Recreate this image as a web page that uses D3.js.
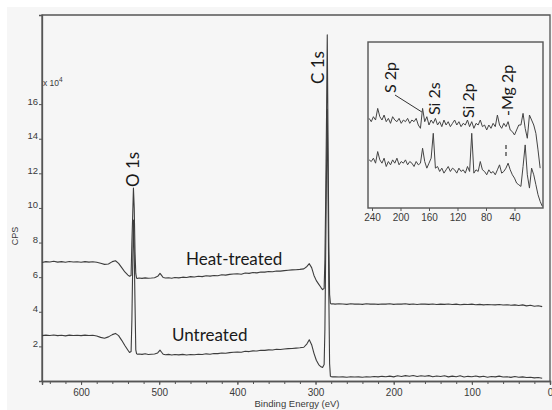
<!DOCTYPE html>
<html>
<head>
<meta charset="utf-8">
<script src="https://cdn.jsdelivr.net/npm/d3@7/dist/d3.min.js"></script>
<style>
  html, body { margin: 0; padding: 0; background: #ffffff; }
  svg { display: block; }
  .tick text { font-family: "Liberation Sans", Arial, sans-serif; fill: #3a3a3a; }
  .ann { font-family: Lato, "Open Sans", sans-serif; fill: #1a1a1a; }
</style>
</head>
<body>
<svg id="chart" width="552" height="410"></svg>
<script>
// XPS survey spectra: binding energy (eV) and intensity (CPS, x 10^4)
const energy = [650,645,640,635,630,625,620,615,610,605,600,595,590,585,580,575,570,565,560,556,552,548,544,540,538,536,535,534,533,532,531,530,529,528,526,522,518,514,510,506,502,499,497,495,492,488,484,480,475,470,465,460,455,450,445,440,435,430,425,420,415,410,405,400,395,390,385,380,375,370,365,360,355,350,345,340,335,330,325,320,315,311,308,305,302,299,296,293,291,289,288,287,286,285,284,283,282,281,280,278,275,270,265,260,255,250,245,240,235,230,225,220,215,210,205,200,195,190,185,180,175,170,165,160,155,150,145,140,135,130,125,120,115,110,105,100,95,90,85,80,75,70,65,60,55,50,45,40,35,30,25,20,15,10,5,0];

const heatTreated = [6.85,6.90,6.88,6.92,6.87,6.90,6.86,6.91,6.88,6.89,6.86,6.90,6.87,6.89,6.86,6.80,6.74,6.76,6.90,6.95,6.80,6.55,6.30,6.12,6.05,6.10,8.0,9.5,11.15,10.0,7.5,6.2,5.95,5.92,5.95,5.93,5.96,5.94,5.95,5.97,6.05,6.22,6.10,5.98,5.95,5.97,5.94,5.98,5.96,6.00,5.98,6.03,6.01,6.05,6.03,6.08,6.06,6.10,6.08,6.14,6.12,6.16,6.18,6.20,6.17,6.24,6.22,6.27,6.25,6.30,6.29,6.33,6.31,6.36,6.35,6.38,6.40,6.42,6.43,6.45,6.48,6.62,6.78,6.55,6.10,5.80,5.60,5.40,5.28,5.35,7.0,10.5,15.0,20.0,14.0,8.0,5.0,4.50,4.45,4.46,4.44,4.46,4.45,4.43,4.46,4.44,4.45,4.43,4.46,4.44,4.45,4.43,4.45,4.44,4.46,4.43,4.45,4.44,4.46,4.43,4.45,4.42,4.45,4.44,4.43,4.45,4.42,4.44,4.43,4.45,4.42,4.44,4.41,4.43,4.42,4.44,4.41,4.43,4.40,4.42,4.41,4.40,4.42,4.39,4.41,4.38,4.40,4.36,4.40,4.34,4.38,4.32,4.35,4.30];

const untreated = [2.62,2.65,2.63,2.66,2.62,2.64,2.61,2.65,2.63,2.64,2.62,2.65,2.63,2.64,2.60,2.52,2.47,2.55,2.68,2.75,2.62,2.35,2.05,1.78,1.65,1.70,3.5,6.5,9.3,7.5,4.5,1.8,1.58,1.55,1.56,1.54,1.57,1.53,1.55,1.56,1.62,1.78,1.66,1.55,1.52,1.54,1.50,1.53,1.51,1.54,1.50,1.53,1.52,1.55,1.53,1.57,1.55,1.59,1.58,1.62,1.60,1.64,1.66,1.68,1.66,1.72,1.70,1.74,1.73,1.78,1.77,1.80,1.79,1.83,1.82,1.85,1.87,1.88,1.90,1.92,1.95,2.15,2.38,2.10,1.60,1.20,0.95,0.82,0.78,0.95,3.0,7.5,12.0,15.7,11.0,5.0,1.0,0.28,0.25,0.24,0.25,0.23,0.24,0.22,0.25,0.23,0.24,0.22,0.25,0.23,0.26,0.24,0.27,0.25,0.28,0.24,0.30,0.26,0.31,0.27,0.32,0.26,0.30,0.27,0.31,0.25,0.29,0.26,0.30,0.24,0.28,0.25,0.30,0.23,0.27,0.25,0.29,0.24,0.27,0.22,0.26,0.24,0.28,0.23,0.25,0.21,0.26,0.22,0.24,0.20,0.22,0.18,0.20,0.16];

const xTicksMajor = [600,500,400,300,200,100,0];
const xTicksMinor = [640,620,600,580,560,540,520,500,480,460,440,420,400,380,360,340,320,300,280,260,240,220,200,180,160,140,120,100,80,60,40,20,0];
const yTicks = [2,4,6,8,10,12,14,16];

// Low binding-energy region (inset), arbitrary offset units
const insetEnergy = [244,241,238,235,232,229,226,223,220,217,214,211,208,205,202,199,196,193,190,187,184,181,178,175,172,169,166,163,160,157,154,151,148,145,142,139,136,133,130,127,124,121,118,115,112,109,106,103,100,97,94,91,88,85,82,79,76,73,70,67,64,61,58,55,52,49,46,43,40,37,34,31,28,25,22,19,16,13,10,7,4,1];
const insetHeat = [54,52,55,53,60,55,53,56,52,54,51,55,53,52,54,51,53,52,54,51,53,52,54,50,48,60,52,55,50,53,51,54,50,52,49,53,50,52,49,51,53,50,52,49,51,50,53,49,52,48,51,50,53,49,50,47,50,48,51,49,56,50,48,51,49,52,47,46,44,47,50,50,57,48,42,56,53,50,45,35,24];
const insetUntreated = [29,28,30,27,34,29,27,30,25,28,26,29,27,30,26,28,27,29,26,28,27,25,28,26,27,36,28,24,27,30,45,24,25,22,24,21,23,25,22,24,23,21,24,22,23,21,25,22,45,21,23,22,28,23,22,20,23,21,22,20,23,26,21,22,24,27,23,20,18,15,14,13,25,38,20,12,24,20,14,8,4,1];
const insetTicks = [240,200,160,120,80,40];

const svg = d3.select("#chart");
const W = 552, H = 410;

// canvas
svg.append("rect").attr("x", 7).attr("y", 7).attr("width", W - 7).attr("height", H - 7).attr("fill", "#f6f6f6");

const x = d3.scaleLinear().domain([650, 0]).range([42, 550]);
const y = d3.scaleLinear().domain([0, 21.15]).range([381, 15]);

const axisColor = "#555";

// frame
svg.append("path")
  .attr("d", `M${x(650)},${y(0)}V${y(21.15)}H${x(0)}V${y(0)}`)
  .attr("fill", "none").attr("stroke", axisColor).attr("stroke-width", 1.3);

// x axis: minor and major ticks
const gxMinor = svg.append("g").attr("transform", `translate(0,${y(0)})`)
  .call(d3.axisBottom(x).tickValues(xTicksMinor).tickSize(3).tickFormat(""));
const gx = svg.append("g").attr("transform", `translate(0,${y(0)})`)
  .call(d3.axisBottom(x).tickValues(xTicksMajor).tickSize(4).tickPadding(4).tickFormat(d3.format("d")));
[gxMinor, gx].forEach(g => {
  g.select(".domain").attr("stroke", axisColor).attr("stroke-width", 1.3);
  g.selectAll(".tick line").attr("stroke", axisColor);
});
gx.selectAll(".tick text").attr("font-size", 10);

// y axis
const gy = svg.append("g").attr("transform", `translate(${x(650)},0)`)
  .call(d3.axisLeft(y).tickValues(yTicks).tickSize(3).tickPadding(1).tickFormat(d3.format("d")));
gy.select(".domain").attr("stroke", axisColor).attr("stroke-width", 1.3);
gy.selectAll(".tick line").attr("stroke", axisColor);
gy.selectAll(".tick text").attr("font-size", 9.5).attr("dy", "0em");

// axis titles
const exp = svg.append("text").attr("x", 43).attr("y", 86)
  .attr("font-family", "Liberation Sans, Arial, sans-serif").attr("font-size", 8.5).attr("fill", "#3a3a3a");
exp.append("tspan").text("x 10");
exp.append("tspan").attr("dy", -4).attr("font-size", 6.5).text("4");

svg.append("text").attr("transform", "translate(18,236) rotate(-90)")
  .attr("text-anchor", "middle")
  .attr("font-family", "Liberation Sans, Arial, sans-serif").attr("font-size", 9).attr("fill", "#3a3a3a")
  .text("CPS");

svg.append("text").attr("x", 297).attr("y", 406.5)
  .attr("text-anchor", "middle")
  .attr("font-family", "Liberation Sans, Arial, sans-serif").attr("font-size", 9.5).attr("fill", "#3a3a3a")
  .text("Binding Energy (eV)");

// spectra
const line = d3.line().x((d, i) => x(energy[i])).y(d => y(d));
[untreated, heatTreated].forEach(s => {
  svg.append("path").datum(s).attr("d", line)
    .attr("fill", "none").attr("stroke", "#3d3d3d").attr("stroke-width", 1.1)
    .attr("stroke-linejoin", "round");
});

// peak and series labels
function vlabel(px, py, txt, size) {
  svg.append("text").attr("class", "ann")
    .attr("transform", `translate(${px},${py}) rotate(-90)`)
    .attr("font-size", size).attr("dy", "0.35em").text(txt);
}
vlabel(133, 187, "O 1s", 17);
vlabel(318, 84, "C 1s", 17);

svg.append("text").attr("class", "ann").attr("x", 186).attr("y", 265).attr("font-size", 17).text("Heat-treated");
svg.append("text").attr("class", "ann").attr("x", 172).attr("y", 341).attr("font-size", 17).text("Untreated");

// inset
const ix = d3.scaleLinear().domain([245.6, 0]).range([368, 543]);
const iy = d3.scaleLinear().domain([0, 100]).range([208, 42]);

svg.append("rect").attr("x", ix(245.6)).attr("y", iy(100))
  .attr("width", ix(0) - ix(245.6)).attr("height", iy(0) - iy(100))
  .attr("fill", "#f6f6f6").attr("stroke", axisColor).attr("stroke-width", 1.4);

const gix = svg.append("g").attr("transform", `translate(0,${iy(0)})`)
  .call(d3.axisBottom(ix).tickValues(insetTicks).tickSize(3).tickPadding(3).tickFormat(d3.format("d")));
gix.select(".domain").remove();
gix.selectAll(".tick line").attr("stroke", axisColor);
gix.selectAll(".tick text").attr("font-size", 10);

svg.append("clipPath").attr("id", "insetClip").append("rect")
  .attr("x", ix(245.6)).attr("y", iy(100)).attr("width", ix(0) - ix(245.6)).attr("height", iy(0) - iy(100));

const iline = d3.line().x((d, i) => ix(insetEnergy[i])).y(d => iy(d));
[insetUntreated, insetHeat].forEach(s => {
  svg.append("path").datum(s).attr("d", iline).attr("clip-path", "url(#insetClip)")
    .attr("fill", "none").attr("stroke", "#444").attr("stroke-width", 1)
    .attr("stroke-linejoin", "round");
});

vlabel(390, 93, "S 2p", 16);
vlabel(434, 115, "Si 2s", 16);
vlabel(468, 118, "Si 2p", 16);
vlabel(507, 116, "-Mg 2p", 16);

// S 2p leader and Mg 2p marker
svg.append("line").attr("x1", 395).attr("y1", 95).attr("x2", ix(170)).attr("y2", 112)
  .attr("stroke", "#333").attr("stroke-width", 1);
svg.append("line").attr("x1", 506).attr("y1", 145).attr("x2", 506).attr("y2", 158)
  .attr("stroke", "#333").attr("stroke-width", 1.2).attr("stroke-dasharray", "4,3");
</script>
</body>
</html>
